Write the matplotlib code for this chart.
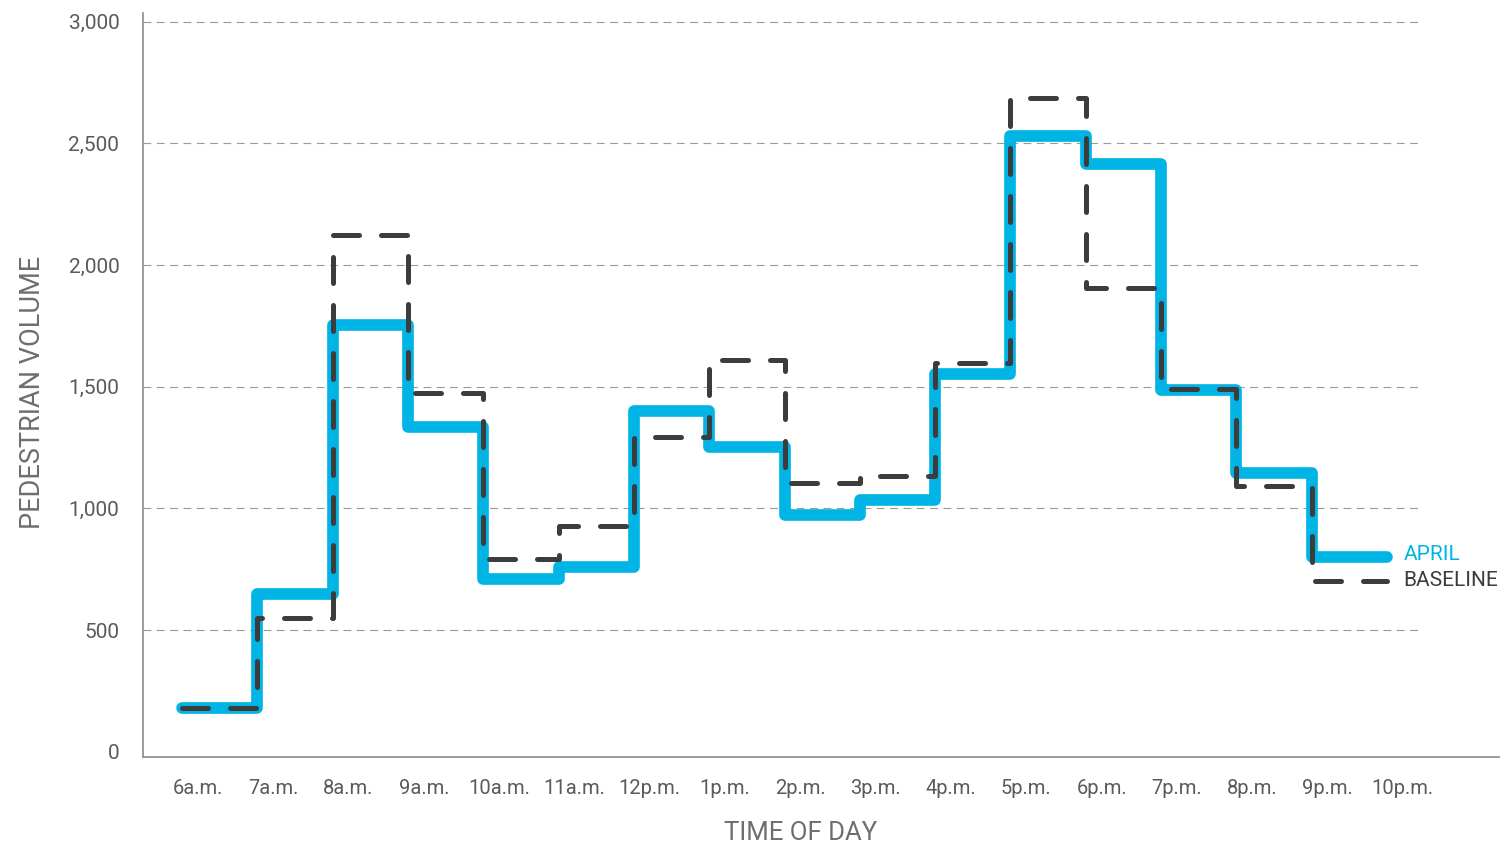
import numpy as np
import matplotlib.pyplot as plt

# hourly pedestrian counts
hours = ['6a.m.', '7a.m.', '8a.m.', '9a.m.', '10a.m.', '11a.m.', '12p.m.', '1p.m.',
         '2p.m.', '3p.m.', '4p.m.', '5p.m.', '6p.m.', '7p.m.', '8p.m.', '9p.m.', '10p.m.']
april = [178, 646, 1755, 1335, 711, 761, 1401, 1253, 972, 1035, 1552, 2531, 2415, 1488, 1145, 800]
baseline = [178, 551, 2124, 1474, 792, 928, 1293, 1609, 1103, 1134, 1599, 2686, 1906, 1489, 1093, 703]
yticks = [0, 500, 1000, 1500, 2000, 2500, 3000]

cyan = '#00b5e5'
dark = '#3c3c3c'
plt.rcParams['font.family'] = ['Roboto', 'DejaVu Sans']

fig = plt.figure(figsize=(15, 8.46), dpi=100)
ax = fig.add_axes([0.0953, 0.1052, 0.9047, 0.8794])

# each hour is a flat step, shifted a bit left of its label
shift = -0.21
xs = np.arange(len(april) + 1) + shift
ax.step(xs, april + [april[-1]], where='post', color=cyan, lw=8.4,
        solid_joinstyle='round', solid_capstyle='round', zorder=3)
ax.step(xs, baseline + [baseline[-1]], where='post', color=dark, lw=3.6,
        linestyle=(0, (5.2, 4.4)), dash_capstyle='round', dash_joinstyle='round', zorder=4)

ax.annotate('APRIL', (xs[-1], april[-1]), xytext=(12, 2), textcoords='offset points',
            color=cyan, fontsize=15, va='center', ha='left')
ax.annotate('BASELINE', (xs[-1], baseline[-1]), xytext=(12, 0), textcoords='offset points',
            color=dark, fontsize=15, va='center', ha='left')

ax.set_xlim(-0.73, 17.29)
ax.set_ylim(-22, 3036)
# dashed guides stop short of the right edge; none at zero
ax.hlines(yticks[1:], -0.73, 16.23, colors='#9a9a9a', lw=0.8, linestyles=(0, (7, 5)), zorder=1)

ax.set_xticks(range(len(hours)))
ax.set_xticklabels(hours)
ax.set_yticks(yticks)
ax.set_yticklabels([f'{v:,}' for v in yticks])
ax.tick_params(axis='x', length=0, pad=16, labelsize=14.5, labelcolor='#5a5a5a')
ax.tick_params(axis='y', length=0, pad=17, labelsize=15, labelcolor='#5a5a5a')

for s in ['top', 'right']:
    ax.spines[s].set_visible(False)
for s in ['left', 'bottom']:
    ax.spines[s].set_color('#8a8a8a')
    ax.spines[s].set_linewidth(1.2)

fig.text(801 / 1500, 1 - 833 / 846, 'TIME OF DAY', ha='center', va='center',
         fontsize=18.5, color='#6e6e6e')
fig.text(33 / 1500, 1 - 392 / 846, 'PEDESTRIAN VOLUME', ha='center', va='center',
         rotation=90, fontsize=19.5, color='#6e6e6e')

fig.savefig('out.png', dpi=100)
